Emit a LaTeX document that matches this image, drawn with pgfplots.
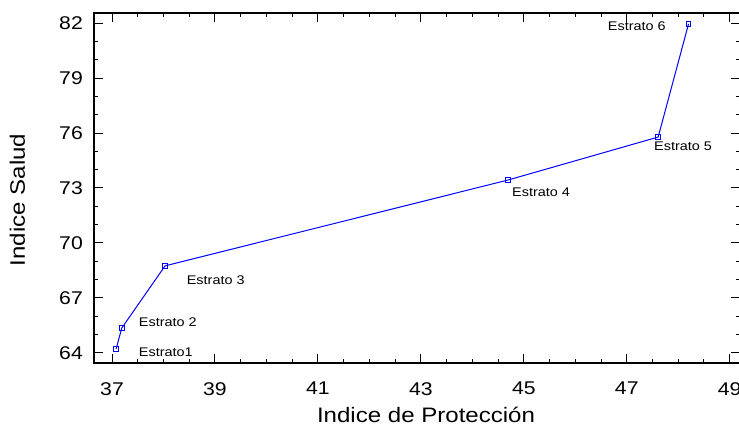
\documentclass[border=0pt]{standalone}
\usepackage{pgfplots}
\pgfplotsset{compat=1.18}
\usepackage{fontspec}
\setmainfont{Liberation Sans}[FakeStretch=1.15]

\begin{document}
\begin{tikzpicture}
\begin{axis}[
  name=ax,
  at={(0,0)}, anchor=south west,
  scale only axis,
  width=646bp, height=350bp,
  xmin=36.65, xmax=49.2,
  ymin=63.45, ymax=82.55,
  xtick={37,39,...,49},
  ytick={64,67,...,82},
  minor x tick num=3,
  minor y tick num=2,
  tick align=inside,
  major tick length=9bp,
  minor tick length=4.5bp,
  axis line style={line width=1.2bp, black},
  every tick/.style={line width=1bp, black},
  /pgf/number format/assume math mode=true,
  tick label style={font=\fontsize{18.5}{20}\selectfont, inner sep=0pt},
  yticklabel style={anchor=east, xshift=-11bp},
  xticklabel style={anchor=north, yshift=-19bp},
  xlabel={Indice de Protección},
  ylabel={Indice Salud},
  xlabel style={font=\fontsize{21}{24}\selectfont, anchor=base,
    at={(axis description cs:0.514,-0.171)}},
  ylabel style={font=\fontsize{21}{24}\selectfont, anchor=base, rotate=0,
    at={(axis description cs:-0.107,0.466)}},
  clip=false,
]
\addplot[blue, line width=1bp, mark=square, mark size=2.4bp,
  mark options={line width=1bp}] coordinates {
  (37.08,64.22)
  (37.19,65.36)
  (38.03,68.75)
  (44.70,73.44)
  (47.61,75.78)
  (48.20,81.95)
};
\begin{scope}[every node/.style={font=\fontsize{12.6}{14}\selectfont, inner sep=0pt}]
\node[anchor=base west] at (axis cs:37.52,63.78) {Estrato1};
\node[anchor=base west] at (axis cs:37.52,65.42) {Estrato 2};
\node[anchor=base west] at (axis cs:38.45,67.76) {Estrato 3};
\node[anchor=base west] at (axis cs:44.77,72.51) {Estrato 4};
\node[anchor=base west] at (axis cs:47.53,75.02) {Estrato 5};
\node[anchor=base east] at (axis cs:47.76,81.57) {Estrato 6};
\end{scope}
\end{axis}
\pgfresetboundingbox
\useasboundingbox ([xshift=-94bp,yshift=-65bp]ax.south west)
  rectangle ([xshift=645bp,yshift=363bp]ax.south west);
\end{tikzpicture}
\end{document}
